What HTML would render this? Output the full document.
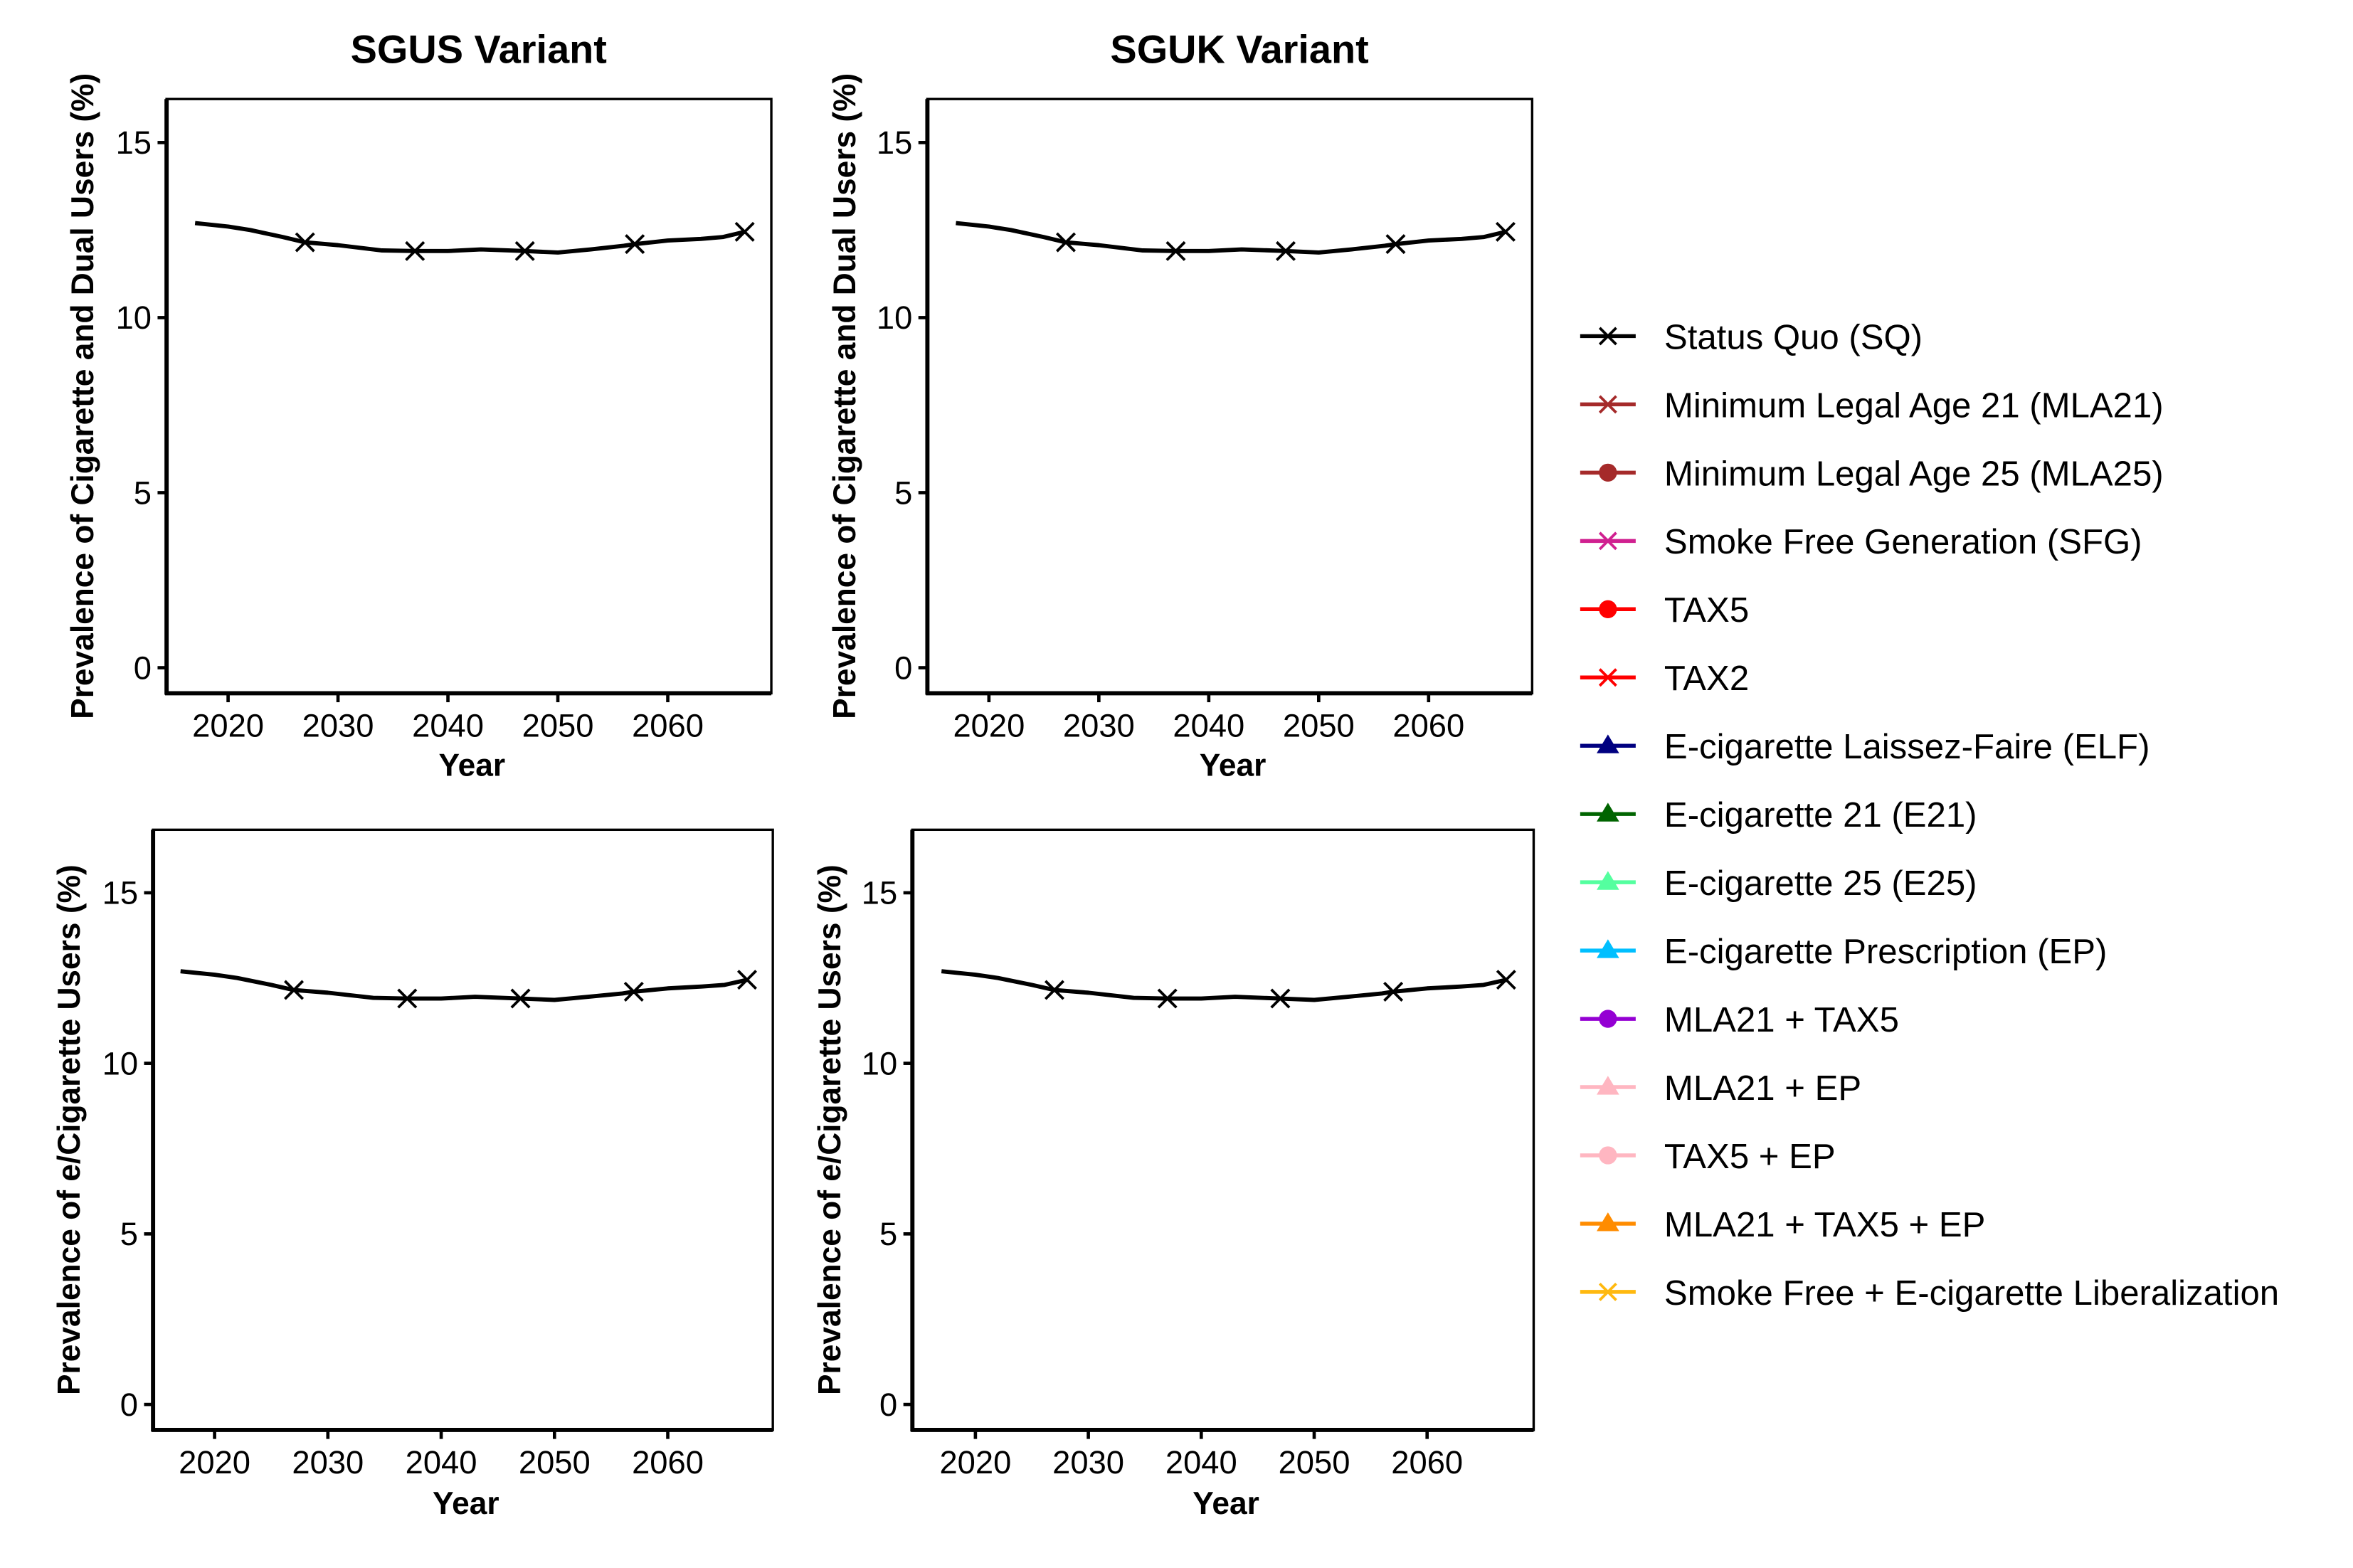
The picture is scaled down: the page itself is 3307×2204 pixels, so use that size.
<!DOCTYPE html>
<html><head><meta charset="utf-8"><style>
html,body{margin:0;padding:0;background:#fff}
svg{display:block}
text{font-family:"Liberation Sans",sans-serif;fill:#000}
</style></head><body>
<svg id="fig" width="3307" height="2204" viewBox="0 0 1568 1045" preserveAspectRatio="none" xmlns="http://www.w3.org/2000/svg">
<g id="panels"></g>
<g id="legend"></g>
</svg>
<script>
const years = [2017,2020,2022,2025,2027,2030,2034,2037,2040,2043,2047,2050,2053,2056,2057,2060,2063,2065,2067];
const sqValues = [12.7,12.6,12.5,12.3,12.15,12.07,11.92,11.9,11.9,11.95,11.9,11.86,11.95,12.05,12.1,12.2,12.25,12.3,12.45];
const markerYears = [2027,2037,2047,2057,2067];
const xTicks = [2020,2030,2040,2050,2060];
const yTicks = [0,5,10,15];
const legendLabels = ["Status Quo (SQ)","Minimum Legal Age 21 (MLA21)","Minimum Legal Age 25 (MLA25)","Smoke Free Generation (SFG)","TAX5","TAX2","E-cigarette Laissez-Faire (ELF)","E-cigarette 21 (E21)","E-cigarette 25 (E25)","E-cigarette Prescription (EP)","MLA21 + TAX5","MLA21 + EP","TAX5 + EP","MLA21 + TAX5 + EP","Smoke Free + E-cigarette Liberalization"];
const legendColors = ["#000000","#a52a2a","#a52a2a","#d02090","#ff0000","#ff0000","#000080","#006400","#54ff9f","#00bfff","#9400d3","#ffb6c1","#ffb6c1","#ff8c00","#ffb90f"];
const legendShapes = ["x","x","o","x","o","x","t","t","t","t","o","t","o","t","x"];

const NS="http://www.w3.org/2000/svg";
function mk(tag,attrs,parent){const e=document.createElementNS(NS,tag);for(const k in attrs)e.setAttribute(k,attrs[k]);parent.appendChild(e);return e;}

const panelsG=document.getElementById('panels');
const panels=[
 {name:'sgus-cig',x0:111,x1:514,y0:66,y1:462,xa:152,xb:445,ya0:445,ya15:95,title:'SGUS Variant',tx:319,ylab:'Prevalence of Cigarette and Dual Users (%)',ylx:55,yly:264,xly:510},
 {name:'sguk-cig',x0:618,x1:1021,y0:66,y1:462,xa:659,xb:952,ya0:445,ya15:95,title:'SGUK Variant',tx:826,ylab:'Prevalence of Cigarette and Dual Users (%)',ylx:563,yly:264,xly:510},
 {name:'sgus-ecig',x0:102,x1:515,y0:553,y1:953,xa:143,xb:445,ya0:936,ya15:595,title:null,ylab:'Prevalence of e/Cigarette Users (%)',ylx:46,yly:753,xly:1002},
 {name:'sguk-ecig',x0:608,x1:1022,y0:553,y1:953,xa:650,xb:951,ya0:936,ya15:595,title:null,ylab:'Prevalence of e/Cigarette Users (%)',ylx:553,yly:753,xly:1002}
];
panels.forEach(p=>{
  const g=mk('g',{},panelsG);
  
  
  const xs=v=>p.xa+(v-2020)*(p.xb-p.xa)/40;
  const ys=v=>p.ya0+(v)*(p.ya15-p.ya0)/15;
  const r=mk('rect',{x:p.x0,y:p.y0,width:p.x1-p.x0,height:p.y1-p.y0,fill:'none',stroke:'#000','stroke-width':1.6},g);
  
  
  mk('line',{x1:p.x0,y1:p.y0,x2:p.x0,y2:p.y1+1,stroke:'#000','stroke-width':2.8},g);
  mk('line',{x1:p.x0-1,y1:p.y1,x2:p.x1,y2:p.y1,stroke:'#000','stroke-width':2.8},g);
  yTicks.forEach(t=>{
    const y=ys(t);
    mk('line',{x1:p.x0-6,y1:y,x2:p.x0,y2:y,stroke:'#000','stroke-width':2.2},g);
    const tx=mk('text',{x:p.x0-10,y:y+7.5,'text-anchor':'end','font-size':21.5},g);
    tx.textContent=t;
    
    
  });
  xTicks.forEach(t=>{
    const x=xs(t);
    mk('line',{x1:x,y1:p.y1,x2:x,y2:p.y1+6,stroke:'#000','stroke-width':2.2},g);
    const tx=mk('text',{x:x,y:p.y1+29,'text-anchor':'middle','font-size':21.5},g);
    tx.textContent=t;
    
    
  });
  const pts=years.map((yr,i)=>xs(yr).toFixed(1)+','+ys(sqValues[i]).toFixed(1)).join(' ');
  const ln=mk('polyline',{points:pts,fill:'none',stroke:'#000','stroke-width':2.8,'stroke-linejoin':'round'},g);
  
  
  markerYears.forEach(my=>{
    const i=years.indexOf(my);
    const cx=xs(my),cy=ys(sqValues[i]),s=6;
    const m=mk('path',{d:`M${cx-s},${cy-s}L${cx+s},${cy+s}M${cx-s},${cy+s}L${cx+s},${cy-s}`,stroke:'#000','stroke-width':1.8},g);
    
    
  });
  if(p.title){
    const t=mk('text',{x:p.tx,y:42,'text-anchor':'middle','font-size':26.5,'font-weight':'bold'},g);
    t.textContent=p.title;
    
    
  }
  const yl=mk('text',{x:0,y:0,'text-anchor':'middle','font-size':21,'font-weight':'bold',transform:`translate(${p.ylx+7},${p.yly}) rotate(-90)`},g);
  yl.textContent=p.ylab;
  
  
  const xl=mk('text',{x:(p.x0+p.x1)/2+2,y:p.xly+7,'text-anchor':'middle','font-size':21,'font-weight':'bold'},g);
  xl.textContent='Year';
  
  
});

const lg=document.getElementById('legend');
legendLabels.forEach((lab,i)=>{
  const y=224+i*45.5, c=legendColors[i];
  const g=mk('g',{},lg);
  
  
  mk('line',{x1:1053,y1:y,x2:1090,y2:y,stroke:c,'stroke-width':2.6},g);
  const cx=1071.5;
  if(legendShapes[i]==='x'){
    mk('path',{d:`M${cx-5.5},${y-5.5}L${cx+5.5},${y+5.5}M${cx-5.5},${y+5.5}L${cx+5.5},${y-5.5}`,stroke:c,'stroke-width':1.8},g);
  }else if(legendShapes[i]==='o'){
    mk('circle',{cx:cx,cy:y,r:6,fill:c},g);
  }else{
    mk('path',{d:`M${cx},${y-7.5}L${cx+7.5},${y+5}L${cx-7.5},${y+5}Z`,fill:c},g);
  }
  const t=mk('text',{x:1109,y:y+8.5,'font-size':23.3},g);
  t.textContent=lab;
});
</script>
</body></html>
